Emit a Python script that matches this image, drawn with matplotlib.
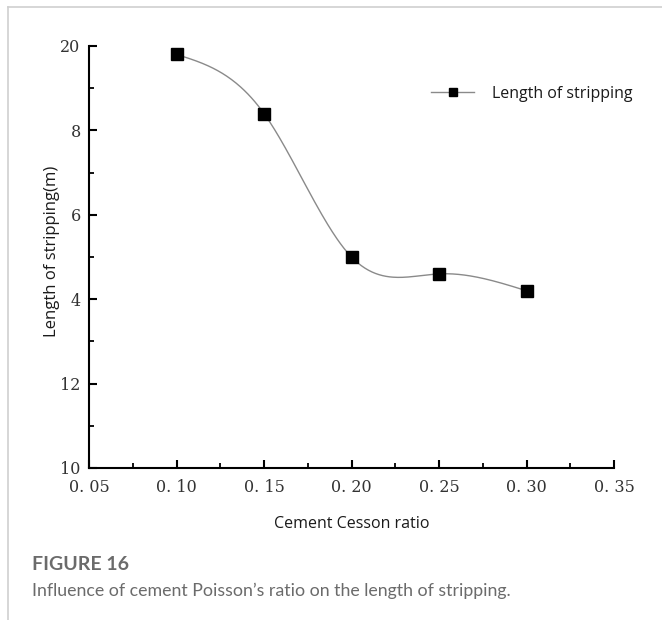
import numpy as np
import matplotlib
matplotlib.use("Agg")
import matplotlib.pyplot as plt
from matplotlib.ticker import AutoMinorLocator
from matplotlib.lines import Line2D

# Data
ratio = [0.10, 0.15, 0.20, 0.25, 0.30]
stripping = [19.8, 18.4, 15.0, 14.6, 14.2]
series_name = "Length of stripping"

x_ticks = [0.05, 0.10, 0.15, 0.20, 0.25, 0.30, 0.35]
x_tick_labels = ["0. 05", "0. 10", "0. 15", "0. 20", "0. 25", "0. 30", "0. 35"]
y_ticks = [10, 12, 14, 16, 18, 20]
y_tick_labels = ["10", "12", "4", "6", "8", "20"]

x_label = "Cement Cesson ratio"
y_label = "Length of stripping(m)"
fig_title = "FIGURE 16"
fig_caption = "Influence of cement Poisson\u2019s ratio on the length of stripping."


def natural_spline(x, y, n=300):
    x = np.asarray(x, float)
    y = np.asarray(y, float)
    m = len(x)
    h = np.diff(x)
    A = np.zeros((m, m))
    b = np.zeros(m)
    A[0, 0] = 1
    A[-1, -1] = 1
    for i in range(1, m - 1):
        A[i, i - 1] = h[i - 1]
        A[i, i] = 2 * (h[i - 1] + h[i])
        A[i, i + 1] = h[i]
        b[i] = 3 * ((y[i + 1] - y[i]) / h[i] - (y[i] - y[i - 1]) / h[i - 1])
    c = np.linalg.solve(A, b)
    xs = np.linspace(x[0], x[-1], n)
    ys = np.empty_like(xs)
    for k, xv in enumerate(xs):
        i = min(np.searchsorted(x, xv, side="right") - 1, m - 2)
        bi = (y[i + 1] - y[i]) / h[i] - h[i] * (2 * c[i] + c[i + 1]) / 3
        di = (c[i + 1] - c[i]) / (3 * h[i])
        t = xv - x[i]
        ys[k] = y[i] + bi * t + c[i] * t ** 2 + di * t ** 3
    return xs, ys


fig = plt.figure(figsize=(6.62, 6.2), dpi=100)
ax = fig.add_axes([89 / 662, 1 - 468 / 620, (614 - 89) / 662, (468 - 46) / 620])

xs, ys = natural_spline(ratio, stripping)
ax.plot(xs, ys, color="#8a8a8a", lw=1.0, zorder=2)
ax.plot(ratio, stripping, linestyle="none", marker="s", markersize=8.5,
        color="black", zorder=3)

ax.set_xlim(0.05, 0.35)
ax.set_ylim(10, 20)
ax.set_xticks(x_ticks)
ax.set_xticklabels(x_tick_labels, family="DejaVu Serif", fontsize=11.5, color="#333333")
ax.set_yticks(y_ticks)
ax.set_yticklabels(y_tick_labels, family="DejaVu Serif", fontsize=11.5, color="#333333")
ax.xaxis.set_minor_locator(AutoMinorLocator(2))
ax.yaxis.set_minor_locator(AutoMinorLocator(2))
ax.tick_params(which="major", direction="in", length=6, width=1.5)
ax.tick_params(which="minor", direction="in", length=3.5, width=1.3)
ax.tick_params(axis="x", which="major", pad=8)
ax.tick_params(axis="y", which="major", pad=6)
for s in ["top", "right"]:
    ax.spines[s].set_visible(False)
for s in ["left", "bottom"]:
    ax.spines[s].set_linewidth(1.5)

ax.set_xlabel(x_label, family="Open Sans", fontsize=11.5, color="#1a1a1a", labelpad=14)
ax.set_ylabel(y_label, family="Open Sans", fontsize=12, color="#1a1a1a")
ax.yaxis.set_label_coords((60 - 89) / 525, (468 - 251) / 422)

handle = Line2D([], [], color="#8a8a8a", lw=1.0, marker="s", markersize=6,
                markerfacecolor="black", markeredgecolor="black")
fig.legend([handle], [series_name], loc="center left",
           bbox_to_anchor=(431 / 662, 1 - 94 / 620), frameon=False,
           borderpad=0, borderaxespad=0, handlelength=2.7, handletextpad=1.1,
           prop={"family": "Open Sans", "size": 11.5}, labelcolor="#1a1a1a")

# frame lines of the figure panel
fig.add_artist(Line2D([8 / 662, 1], [1 - 6.5 / 620, 1 - 6.5 / 620], color="#cfcfcf", lw=1.2))
fig.add_artist(Line2D([8 / 662, 8 / 662], [0, 1 - 6.5 / 620], color="#cfcfcf", lw=1.2))

fig.text(32 / 662, 1 - 565 / 620, fig_title, family="Lato", weight="bold",
         fontsize=14, color="#6b6b6b", va="center", ha="left")
fig.text(32 / 662, 1 - 591 / 620, fig_caption, family="Lato",
         fontsize=12.8, color="#6b6b6b", va="center", ha="left")

fig.savefig("out.png", dpi=100)
